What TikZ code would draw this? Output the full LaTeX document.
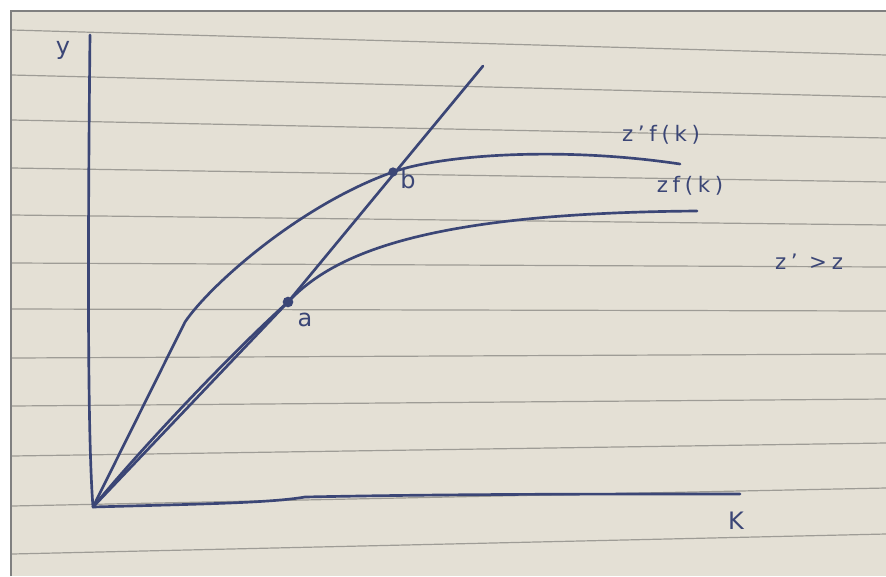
\documentclass[tikz,border=0pt]{standalone}
\usepackage{fontspec}
\setmainfont{DejaVu Sans}
\definecolor{paperc}{HTML}{E4E0D5}
\definecolor{rulec}{HTML}{9E9C96}
\definecolor{borderc}{HTML}{808080}
\definecolor{inkc}{HTML}{3B4676}
\tikzset{
  ink/.style={draw=inkc, line width=2pt, line cap=round, line join=round},
  rule/.style={draw=rulec, line width=0.9pt},
  lbl/.style={text=inkc, inner sep=0pt, font=\fontsize{16}{16}\selectfont\addfontfeature{LetterSpace=22}},
  axlbl/.style={text=inkc, inner sep=0pt, font=\fontsize{18}{18}\selectfont},
  dotn/.style={circle, fill=inkc, inner sep=0pt, minimum size=8pt}
}
\begin{document}
\begin{tikzpicture}[x=0.75pt,y=-0.75pt]
\useasboundingbox (0,0) rectangle (886,576);
\fill[white] (0,0) rectangle (886,576);
\fill[paperc] (11,11) rectangle (886,576);
% ruled lines of the paper
\foreach \l/\r in {30/55,75/97,120/138,168/182,215/225,263/267,309/311,358/354,406/399,456/443,506/488,554/534}
  \draw[rule] (12,\l) -- (886,\r);
\draw[draw=borderc, line width=1.4pt] (11,576) -- (11,11) -- (886,11);

% key points
\coordinate (O) at (93,507);
\coordinate (ytop) at (90,35);
\coordinate (xend) at (740,494);
\coordinate (A) at (288,302);
\coordinate (B) at (393,172);
\coordinate (rayend) at (483,66);
\coordinate (kink) at (185,322);
\coordinate (zpend) at (680,164);
\coordinate (zend) at (697,211);

% axes
\draw[ink] (ytop) .. controls (88,220) and (87,430) .. (O);
\draw[ink] (O) .. controls (200,504) and (270,503) .. (305,497) .. controls (450,494) and (600,494) .. (xend);

% ray from origin
\draw[ink] (O) -- (A) -- (rayend);

% z f(k)
\draw[ink] (O) .. controls (150,438) and (240,345) .. (A) .. controls (335,252) and (430,213) .. (zend);

% z' f(k)
\draw[ink] (O) -- (kink) .. controls (210,285) and (300,205) .. (B) .. controls (440,155) and (560,146) .. (zpend);

% points
\node[dotn] (dA) at (A) {};
\node[dotn, minimum size=7pt] (dB) at (B) {};

% labels
\node[axlbl] (ly) at (63,50) {y};
\node[axlbl] (lk) at (736,521) {K};
\node[axlbl] (la) at (305,320) {a};
\node[axlbl] (lb) at (408,180) {b};
\node[lbl] (lzp) at (661,135) {z'f(k)};
\node[lbl] (lz) at (690,186) {zf(k)};
\node[lbl] (lcmp) at (809,262) {z' >z};
\end{tikzpicture}
\end{document}
